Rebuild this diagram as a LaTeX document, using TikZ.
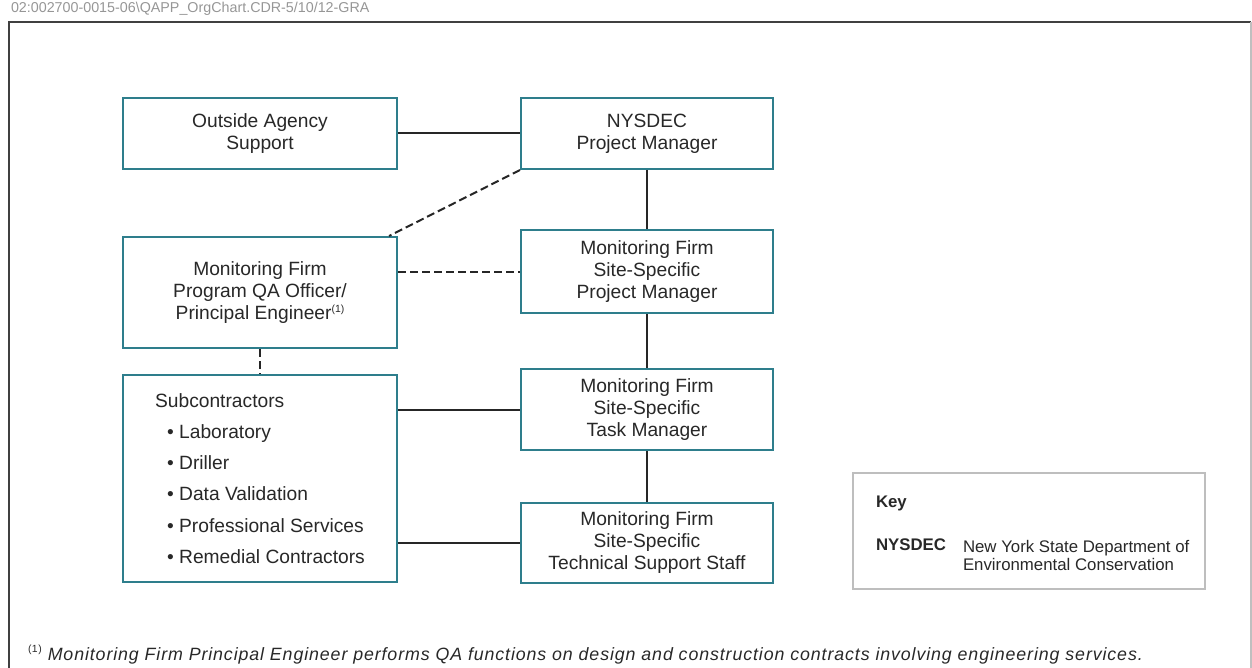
\documentclass[tikz,border=0pt]{standalone}
\usepackage{fontspec}
\setmainfont{Liberation Sans}
\usepackage{tikz}
\usetikzlibrary{calc}

\definecolor{boxteal}{RGB}{46,126,140}
\definecolor{textgray}{RGB}{40,40,40}
\definecolor{keygray}{RGB}{190,190,190}
\definecolor{headgray}{RGB}{150,150,150}

% small footnote mark
\newcommand{\fnmark}{\raisebox{3.6pt}{\fontsize{5.2}{5.2}\selectfont\upshape(1)}}

\begin{document}
\begin{tikzpicture}[x=0.5pt, y=-0.5pt, line width=1pt,
  orgbox/.style={draw=boxteal, line width=1pt, fill=white, align=center, text=textgray,
                 font=\fontsize{9.6}{11}\selectfont, inner sep=2pt},
  widebox/.style={orgbox, minimum width=137pt},
  narrowbox/.style={orgbox, minimum width=126pt},
  solidlink/.style={draw=black!85, line width=1pt},
  dashlink/.style={solidlink, dash pattern=on 4pt off 2pt},
  keytext/.style={inner sep=0pt, text=textgray, font=\fontsize{8.4}{9.3}\selectfont}]

% fix page size
\useasboundingbox (0, 0) rectangle (1252, 668);

% draw header and frame
\node[anchor=west, inner sep=0pt, text=headgray, font=\fontsize{7.15}{8}\selectfont] (header) at (10, 9)
     {02:002700-0015-06\textbackslash QAPP\_OrgChart.CDR-5/10/12-GRA};
\draw[color=black!75, line width=1pt] (9, 668) -- (9, 22) -- (1251, 22);
\draw[color=black!25, line width=0.6pt] (1251, 22) -- (1251, 668);

% draw left column
\node[widebox, minimum height=35.5pt] (outside) at (260, 133.5) {Outside Agency\\Support};
\node[widebox, minimum height=55.5pt] (qaoff) at (260, 292.5)
     {Monitoring Firm\\Program QA Officer/\\Principal Engineer\fnmark};
\node[widebox, minimum height=103.5pt, align=left, font=\fontsize{9.6}{15.6}\selectfont] (subcon) at (260, 478.5)
     {Subcontractors\\
      \hspace*{6pt}\textbullet\ Laboratory\\
      \hspace*{6pt}\textbullet\ Driller\\
      \hspace*{6pt}\textbullet\ Data Validation\\
      \hspace*{6pt}\textbullet\ Professional Services\\
      \hspace*{6pt}\textbullet\ Remedial Contractors};

% draw right column
\node[narrowbox, minimum height=35.5pt] (nysdec) at (647, 133.5) {NYSDEC\\Project Manager};
\node[narrowbox, minimum height=41.5pt] (sitepm) at (647, 271.5) {Monitoring Firm\\Site-Specific\\Project Manager};
\node[narrowbox, minimum height=40.5pt] (taskmgr) at (647, 409.5) {Monitoring Firm\\Site-Specific\\Task Manager};
\node[narrowbox, minimum height=40pt] (techstaff) at (647, 543) {Monitoring Firm\\Site-Specific\\Technical Support Staff};

% draw solid links
\draw[solidlink] (outside.east) -- (nysdec.west);
\draw[solidlink] (nysdec.south) -- (sitepm.north);
\draw[solidlink] (sitepm.south) -- (taskmgr.north);
\draw[solidlink] (taskmgr.south) -- (techstaff.north);
\draw[solidlink] (subcon.east |- taskmgr.west) -- (taskmgr.west);
\draw[solidlink] (subcon.east |- techstaff.west) -- (techstaff.west);

% draw dashed links
\coordinate (qacorner) at ($(qaoff.north east) + (-9, 0)$);
\draw[dashlink] (nysdec.south west) -- (qacorner);
\draw[dashlink] (qaoff.east |- sitepm.west) -- (sitepm.west);
\draw[dashlink] (qaoff.south) -- (subcon.north);

% draw key
\node[draw=keygray, line width=0.8pt, minimum width=176pt, minimum height=58pt, inner sep=0pt] (keybox) at (1029, 531) {};
\node[keytext, anchor=base west, font=\fontsize{8.4}{9.3}\selectfont\bfseries] (keytitle) at (875, 507) {Key};
\node[keytext, anchor=base west, font=\fontsize{8.4}{9.3}\selectfont\bfseries] (keyabbr) at (875, 550) {NYSDEC};
\node[keytext, anchor=north west, align=left] (keydef) at (962, 539)
     {New York State Department of\\Environmental Conservation};

% draw footnote
\node[anchor=base west, inner sep=0pt, text=textgray,
      font=\fontsize{8.9}{10}\selectfont\itshape\addfontfeature{LetterSpace=5}] (footnote) at (27, 660)
     {\fnmark\hspace{3pt}Monitoring Firm Principal Engineer performs QA functions on design and construction contracts involving engineering services.};

\end{tikzpicture}
\end{document}
